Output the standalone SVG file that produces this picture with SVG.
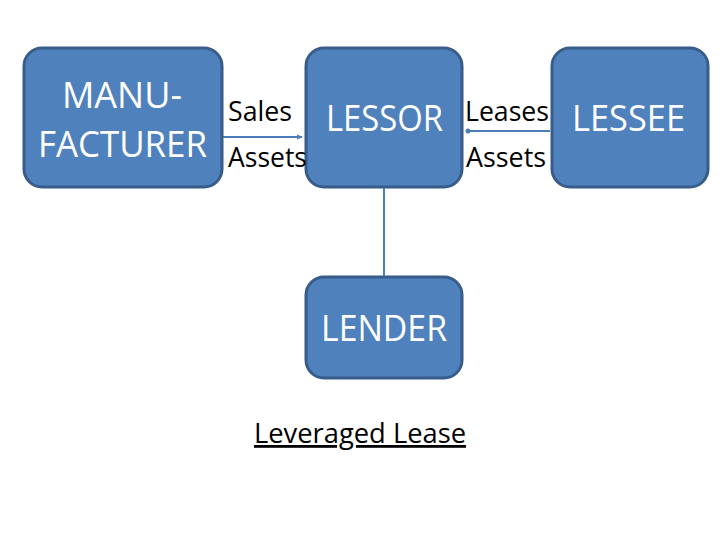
<svg xmlns="http://www.w3.org/2000/svg" width="720" height="540" viewBox="0 0 720 540">
<style>
.box{fill:#4F81BD;stroke:#385D8A;stroke-width:3}
.w{fill:#fff;font-family:"Open Sans","Liberation Sans",sans-serif;font-size:37px}
.k{fill:#000;font-family:"Open Sans","Liberation Sans",sans-serif;font-size:28px}
.c{stroke:#4A7EBB;stroke-width:2;fill:none}
</style>
<defs>
<marker id="ah" markerWidth="6" markerHeight="6" refX="5" refY="3" orient="auto" markerUnits="userSpaceOnUse"><path d="M0,0.5 L6,3 L0,5.5 Z" fill="#4A7EBB"/></marker>
<marker id="dot" markerWidth="6" markerHeight="6" refX="3" refY="3" markerUnits="userSpaceOnUse"><circle cx="3" cy="3" r="2.5" fill="#4A7EBB"/></marker>
</defs>
<rect width="720" height="540" fill="#fff"/>
<g id="connectors">
<line class="c" x1="223" y1="137" x2="302" y2="137" marker-end="url(#ah)"/>
<line class="c" x1="550" y1="131" x2="468" y2="131" marker-end="url(#dot)"/>
<line class="c" x1="384" y1="188" x2="384" y2="276"/>
</g>
<g id="manufacturer">
<rect class="box" x="24" y="48" width="198" height="139" rx="18"/>
<text class="w" x="62" y="108" textLength="120" lengthAdjust="spacingAndGlyphs">MANU-</text>
<text class="w" x="38" y="157" textLength="169" lengthAdjust="spacingAndGlyphs">FACTURER</text>
</g>
<g id="lessor">
<rect class="box" x="306" y="48" width="156" height="139" rx="18"/>
<text class="w" x="326" y="131" textLength="117" lengthAdjust="spacingAndGlyphs">LESSOR</text>
</g>
<g id="lessee">
<rect class="box" x="552" y="48" width="156" height="139" rx="18"/>
<text class="w" x="572" y="131" textLength="113" lengthAdjust="spacingAndGlyphs">LESSEE</text>
</g>
<g id="lender">
<rect class="box" x="306" y="277" width="156" height="101" rx="18"/>
<text class="w" x="321" y="341" textLength="126" lengthAdjust="spacingAndGlyphs">LENDER</text>
</g>
<g id="labels">
<text class="k" x="228" y="121" textLength="64" lengthAdjust="spacingAndGlyphs">Sales</text>
<text class="k" x="228" y="167" textLength="79" lengthAdjust="spacingAndGlyphs">Assets</text>
<text class="k" x="465" y="121" textLength="84" lengthAdjust="spacingAndGlyphs">Leases</text>
<text class="k" x="466" y="167" textLength="80" lengthAdjust="spacingAndGlyphs">Assets</text>
<text class="k" x="254" y="443" textLength="212" lengthAdjust="spacingAndGlyphs" text-decoration="underline">Leveraged Lease</text>
</g>
</svg>
